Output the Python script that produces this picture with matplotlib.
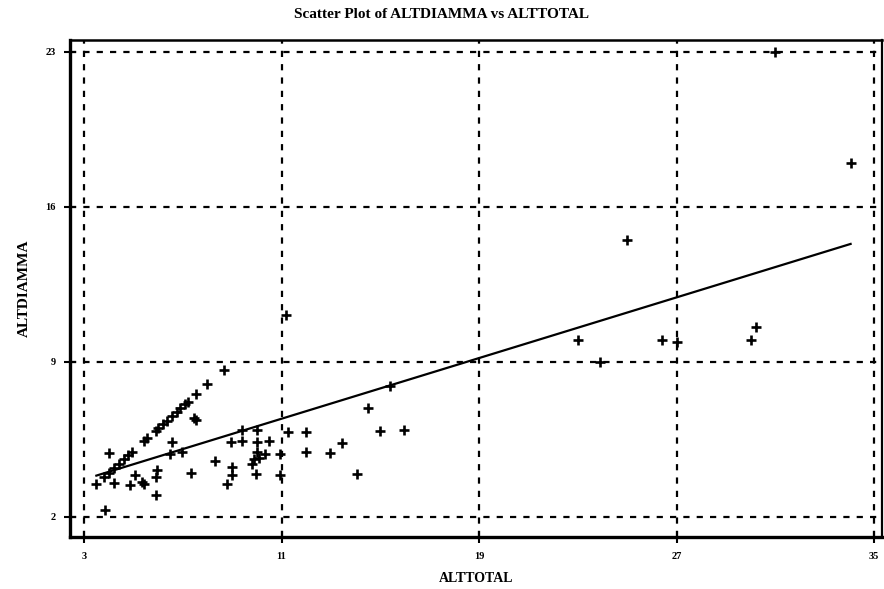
import matplotlib.pyplot as plt
import numpy as np

# points where ALTDIAMMA equals ALTTOTAL (the diagonal run)
diag_x = [3.5, 3.8, 4.0, 4.2, 4.4, 4.6, 4.8, 4.95, 5.45, 5.55, 5.9, 6.0,
          6.2, 6.35, 6.55, 6.75, 6.9, 7.1, 7.2, 7.55, 8.0, 8.65]

# remaining points
other_x = [4.0, 3.85, 4.2, 4.85, 5.05, 5.35, 5.45, 5.95, 5.9, 5.9, 6.55, 6.5,
           6.95, 7.35, 7.45, 7.55, 8.3, 8.8, 9.0, 9.0, 8.95, 9.4, 9.4, 10.0,
           10.0, 10.5, 10.0, 10.35, 9.8, 9.9, 10.1, 9.95, 10.95, 10.95, 11.25,
           11.2, 12.0, 12.0, 12.95, 13.45, 14.05, 14.5, 15.0, 15.4, 15.95,
           23.0, 23.9, 25.0, 26.4, 27.0, 30.0, 30.2, 31.0, 34.05]
other_y = [4.9, 2.3, 3.55, 3.45, 3.9, 3.6, 3.5, 4.1, 3.8, 3.0, 5.4, 4.85,
           4.95, 4.0, 6.45, 6.4, 4.55, 3.5, 4.25, 3.9, 5.4, 5.95, 5.45, 5.95,
           5.4, 5.45, 4.95, 4.85, 4.4, 4.6, 4.65, 3.95, 4.85, 3.9, 5.85,
           11.1, 5.85, 4.95, 4.9, 5.35, 3.95, 6.9, 5.9, 7.9, 5.95,
           10.0, 9.0, 14.5, 10.0, 9.9, 10.0, 10.6, 23.0, 18.0]

# fitted regression line
fit_intercept = 2.67
fit_slope = 0.3425

x_ticks = [3, 11, 19, 27, 35]
y_ticks = [2, 9, 16, 23]

x = np.array(diag_x + other_x)
y = np.array(diag_x + other_y)

plt.rcParams['font.family'] = ['Liberation Serif', 'DejaVu Serif']
plt.rcParams['font.weight'] = 'bold'

fig = plt.figure(figsize=(8.84, 5.89), dpi=100)
ax = fig.add_axes([0.0792, 0.0883, 0.9186, 0.8438])

ax.plot(x, y, linestyle='none', marker='+', color='black',
        markersize=6.5, markeredgewidth=1.9, zorder=3)

line_x = np.array([x.min(), x.max()])
ax.plot(line_x, fit_intercept + fit_slope * line_x, color='black', lw=1.6, zorder=3)

ax.set_xlim(2.433, 35.324)
ax.set_ylim(1.097, 23.542)
ax.set_xticks(x_ticks)
ax.set_yticks(y_ticks)
ax.tick_params(direction='inout', length=9, width=1.5, labelsize=7.5, pad=6)

ax.grid(True, color='black', linestyle=(0, (2.8, 3.2)), linewidth=1.6)

ax.spines['left'].set_linewidth(2.4)
ax.spines['bottom'].set_linewidth(2.4)
ax.spines['top'].set_linewidth(1.8)
ax.spines['right'].set_linewidth(1.6)

ax.set_xlabel('ALTTOTAL', fontsize=10, fontweight='bold', labelpad=8)
ax.set_ylabel('ALTDIAMMA', fontsize=11, fontweight='bold', labelpad=10)
fig.text(0.5, 0.975, 'Scatter Plot of ALTDIAMMA vs ALTTOTAL', ha='center', va='center',
         fontsize=11, fontweight='bold')

fig.savefig('out.png', dpi=100)
